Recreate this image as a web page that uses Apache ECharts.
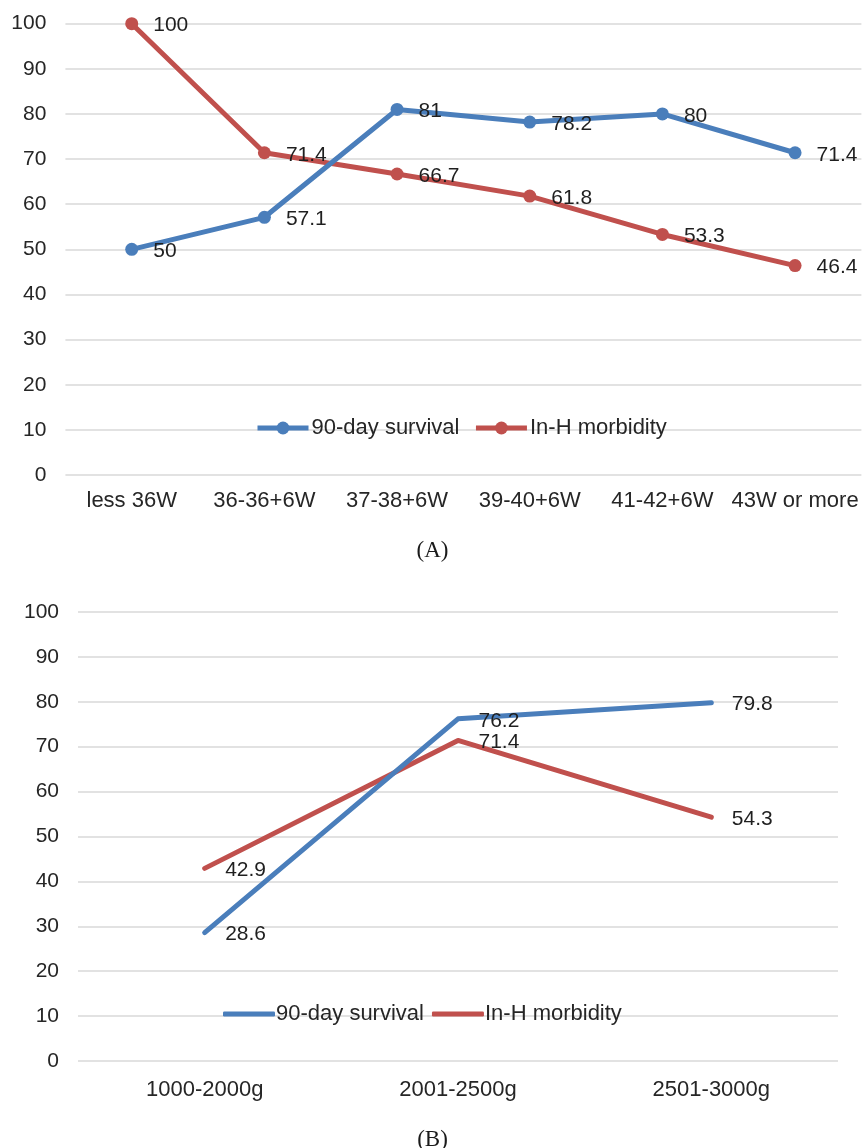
<!DOCTYPE html>
<html>
<head>
<meta charset="utf-8">
<script src="https://cdn.jsdelivr.net/npm/echarts@6/dist/echarts.min.js"></script>
<style>
  html, body { margin: 0; padding: 0; background: #fff; }
  #chart { width: 865px; height: 1148px; }
</style>
</head>
<body>
<div id="chart"></div>
<script>
// Panel A: outcomes by gestational age
const weekCategories = ['less 36W', '36-36+6W', '37-38+6W', '39-40+6W', '41-42+6W', '43W or more'];
const survivalByWeek = [50, 57.1, 81, 78.2, 80, 71.4];
const morbidityByWeek = [100, 71.4, 66.7, 61.8, 53.3, 46.4];

// Panel B: outcomes by birth weight
const weightCategories = ['1000-2000g', '2001-2500g', '2501-3000g'];
const survivalByWeight = [28.6, 76.2, 79.8];
const morbidityByWeight = [42.9, 71.4, 54.3];

const seriesNames = ['90-day survival', 'In-H morbidity'];
const yTicks = { min: 0, max: 100, interval: 10 };

const BLUE = '#4a7ebb';
const RED = '#c0504d';
const TEXT = '#262626';
const FONT = '"Liberation Sans", Arial, sans-serif';

const chart = echarts.init(document.getElementById('chart'), null, { renderer: 'canvas' });

function yAxis(gridIndex) {
  return {
    type: 'value', gridIndex,
    min: yTicks.min, max: yTicks.max, interval: yTicks.interval,
    axisLine: { show: false }, axisTick: { show: false },
    axisLabel: { color: TEXT, fontSize: 21, fontFamily: FONT, margin: 19 },
    splitLine: { lineStyle: { color: '#d9d9d9', width: 1.5 } }
  };
}

function xAxis(gridIndex, data, margin) {
  return {
    type: 'category', gridIndex, data, boundaryGap: true,
    axisLine: { show: false }, axisTick: { show: false },
    axisLabel: { color: TEXT, fontSize: 22, fontFamily: FONT, margin, interval: 0 }
  };
}

function dataLabel(distance) {
  return {
    show: true, position: 'right', distance,
    offset: [0, 2],
    color: '#1f1f1f', fontSize: 21, fontFamily: FONT
  };
}

function markedLine(name, data, color) {
  return {
    name, type: 'line', xAxisIndex: 0, yAxisIndex: 0, data,
    symbol: 'circle', symbolSize: 13,
    lineStyle: { color, width: 5 },
    itemStyle: { color },
    label: dataLabel(15),
    z: name === seriesNames[0] ? 3 : 2
  };
}

function plainLine(name, data, color) {
  return {
    name, type: 'line', xAxisIndex: 1, yAxisIndex: 1, data,
    symbol: 'circle', symbolSize: 1, showSymbol: true,
    lineStyle: { color, width: 5, cap: 'round', join: 'round' },
    itemStyle: { color },
    label: dataLabel(20),
    z: name === seriesNames[0] ? 3 : 2
  };
}

const captionStyle = {
  fontFamily: '"Liberation Serif", "DejaVu Serif", serif',
  fontSize: 23, fontWeight: 'normal', color: '#1a1a1a'
};

const option = {
  animation: false,
  backgroundColor: '#ffffff',
  grid: [
    { left: 65.4, top: 23.7, width: 796, height: 451.3 },
    { left: 78, top: 612, width: 760, height: 449 }
  ],
  xAxis: [xAxis(0, weekCategories, 15), xAxis(1, weightCategories, 18)],
  yAxis: [yAxis(0), yAxis(1)],
  title: [
    { text: '(A)', left: 'center', top: 534, textStyle: captionStyle },
    { text: '(B)', left: 'center', top: 1123, textStyle: captionStyle }
  ],
  legend: [
    {
      left: 250, top: 412,
      itemWidth: 51, itemHeight: 16, itemGap: 14,
      lineStyle: { width: 5 },
      textStyle: { color: TEXT, fontSize: 22, fontFamily: FONT, padding: [0, 0, 0, -2] },
      data: seriesNames
    },
    {
      left: 218, top: 998,
      itemWidth: 52, itemHeight: 5, itemGap: 8,
      textStyle: { color: TEXT, fontSize: 22, fontFamily: FONT, padding: [0, 0, 0, -4] },
      data: seriesNames.map(n => ({ name: n, icon: 'roundRect' }))
    }
  ],
  series: [
    markedLine(seriesNames[0], survivalByWeek, BLUE),
    markedLine(seriesNames[1], morbidityByWeek, RED),
    plainLine(seriesNames[0], survivalByWeight, BLUE),
    plainLine(seriesNames[1], morbidityByWeight, RED)
  ]
};

chart.setOption(option);
</script>
</body>
</html>
